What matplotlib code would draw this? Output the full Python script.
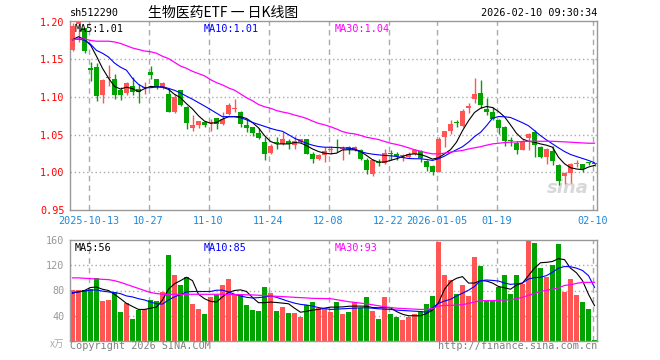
import matplotlib
matplotlib.use("Agg")
import matplotlib.pyplot as plt
import numpy as np

# daily candles, 88 trading days (oldest first)
opens = [1.1623, 1.1974, 1.1921, 1.1386, 1.1399, 1.1022, 1.1254, 1.1241, 1.1088, 1.1048,
         1.1149, 1.1100, 1.1120, 1.1333, 1.1241, 1.1123, 1.1044, 1.0807, 1.1088, 1.0868,
         1.0588, 1.0632, 1.0671, 1.0650, 1.0715, 1.0640, 1.0772, 1.0845, 1.0794, 1.0627,
         1.0605, 1.0518, 1.0399, 1.0255, 1.0395, 1.0370, 1.0421, 1.0364, 1.0399, 1.0439,
         1.0246, 1.0180, 1.0224, 1.0294, 1.0329, 1.0307, 1.0333, 1.0290, 1.0290, 1.0167,
         0.9982, 1.0132, 1.0127, 1.0254, 1.0237, 1.0210, 1.0206, 1.0249, 1.0285, 1.0149,
         1.0079, 1.0004, 1.0474, 1.0544, 1.0660, 1.0618, 1.0860, 1.0969, 1.1057, 1.0838,
         1.0794, 1.0693, 1.0605, 1.0416, 1.0386, 1.0298, 1.0456, 1.0531, 1.0342, 1.0202,
         1.0281, 1.0092, 0.9947, 0.9991, 1.0110, 1.0105, 1.0127, 1.0118]
closes = [1.1947, 1.1991, 1.1614, 1.1355, 1.1009, 1.1219, 1.1263, 1.1022, 1.1026, 1.1189,
          1.1070, 1.1070, 1.1132, 1.1289, 1.1132, 1.1189, 1.0807, 1.1000, 1.0895, 1.0649,
          1.0632, 1.0684, 1.0627, 1.0671, 1.0640, 1.0706, 1.0895, 1.0851, 1.0640, 1.0588,
          1.0518, 1.0456, 1.0246, 1.0355, 1.0386, 1.0448, 1.0377, 1.0421, 1.0439, 1.0246,
          1.0180, 1.0224, 1.0281, 1.0303, 1.0320, 1.0316, 1.0311, 1.0333, 1.0180, 1.0026,
          1.0158, 1.0127, 1.0254, 1.0245, 1.0210, 1.0219, 1.0249, 1.0294, 1.0184, 1.0070,
          1.0004, 1.0443, 1.0544, 1.0640, 1.0649, 1.0816, 1.0873, 1.1044, 1.0895, 1.0794,
          1.0711, 1.0588, 1.0421, 1.0412, 1.0298, 1.0412, 1.0509, 1.0368, 1.0202, 1.0311,
          1.0149, 0.9886, 0.9996, 1.0114, 1.0114, 1.0048, 1.0123, 1.0105]
highs = [1.1978, 1.2000, 1.1921, 1.1460, 1.1452, 1.1232, 1.1420, 1.1307, 1.1132, 1.1202,
         1.1263, 1.1167, 1.1202, 1.1408, 1.1241, 1.1202, 1.1114, 1.1035, 1.1088, 1.0882,
         1.0759, 1.0684, 1.0684, 1.0706, 1.0715, 1.0794, 1.0925, 1.0974, 1.0816, 1.0706,
         1.0605, 1.0588, 1.0465, 1.0377, 1.0464, 1.0530, 1.0443, 1.0487, 1.0443, 1.0439,
         1.0268, 1.0237, 1.0333, 1.0355, 1.0443, 1.0355, 1.0355, 1.0355, 1.0303, 1.0193,
         1.0180, 1.0180, 1.0311, 1.0298, 1.0276, 1.0246, 1.0272, 1.0316, 1.0294, 1.0158,
         1.0092, 1.0465, 1.0544, 1.0693, 1.0693, 1.0838, 1.0925, 1.1254, 1.1219, 1.0983,
         1.0873, 1.0706, 1.0618, 1.0465, 1.0412, 1.0443, 1.0518, 1.0561, 1.0355, 1.0325,
         1.0355, 1.0114, 1.0004, 1.0123, 1.0158, 1.0114, 1.0136, 1.0130]
lows = [1.1605, 1.1728, 1.1583, 1.1210, 1.0947, 1.0925, 1.1145, 1.0969, 1.0965, 1.1026,
        1.1026, 1.0921, 1.1035, 1.1232, 1.1100, 1.1100, 1.0794, 1.0781, 1.0886, 1.0575,
        1.0553, 1.0588, 1.0596, 1.0553, 1.0575, 1.0632, 1.0763, 1.0794, 1.0596, 1.0531,
        1.0487, 1.0439, 1.0158, 1.0237, 1.0306, 1.0360, 1.0311, 1.0303, 1.0386, 1.0237,
        1.0123, 1.0167, 1.0136, 1.0246, 1.0268, 1.0158, 1.0246, 1.0281, 1.0167, 0.9982,
        0.9956, 1.0083, 1.0114, 1.0167, 1.0167, 1.0145, 1.0184, 1.0228, 1.0140, 1.0018,
        0.9961, 1.0004, 1.0333, 1.0509, 1.0605, 1.0596, 1.0781, 1.0925, 1.0860, 1.0763,
        1.0698, 1.0509, 1.0355, 1.0355, 1.0246, 1.0290, 1.0290, 1.0202, 1.0193, 1.0114,
        1.0092, 0.9829, 0.9842, 0.9864, 1.0070, 1.0004, 1.0092, 1.0080]

ma5 = [1.176, 1.180, 1.176, 1.169, 1.154, 1.138, 1.125, 1.114, 1.1105, 1.113,
       1.111, 1.107, 1.111, 1.114, 1.1135, 1.113, 1.110, 1.1035, 1.099, 1.091,
       1.084, 1.075, 1.068, 1.065, 1.066, 1.0706, 1.0737, 1.074, 1.0737, 1.0715,
       1.066, 1.059, 1.0487, 1.041, 1.0377, 1.0377, 1.0377, 1.0395, 1.039, 1.0355,
       1.031, 1.0276, 1.0254, 1.0245, 1.0254, 1.0298, 1.030, 1.0298, 1.0276, 1.0224,
       1.0167, 1.0136, 1.0136, 1.0158, 1.018, 1.021, 1.0237, 1.0245, 1.0237, 1.021,
       1.0175, 1.0193, 1.0245, 1.030, 1.040, 1.0553, 1.0684, 1.0794, 1.085, 1.0873,
       1.086, 1.0807, 1.0737, 1.063, 1.0518, 1.0443, 1.0412, 1.040, 1.0377, 1.036,
       1.0333, 1.020, 1.0114, 1.0061, 1.0044, 1.0035, 1.007, 1.0092]
ma10 = [1.176, 1.1768, 1.1754, 1.170, 1.1618, 1.158, 1.153, 1.145, 1.1395, 1.1355,
        1.1246, 1.1167, 1.1123, 1.1123, 1.1132, 1.1136, 1.1114, 1.1088, 1.1053, 1.101,
        1.097, 1.0925, 1.088, 1.0833, 1.0785, 1.0737, 1.074, 1.0737, 1.0724, 1.0697,
        1.0662, 1.0636, 1.061, 1.0583, 1.0561, 1.0544, 1.050, 1.0452, 1.0417, 1.0386,
        1.036, 1.0342, 1.0333, 1.0333, 1.0329, 1.0325, 1.032, 1.0311, 1.0276, 1.0254,
        1.0241, 1.0232, 1.0224, 1.022, 1.021, 1.0197, 1.0184, 1.018, 1.018, 1.017,
        1.0158, 1.018, 1.0215, 1.026, 1.030, 1.034, 1.040, 1.0474, 1.053, 1.0618,
        1.0719, 1.074, 1.0737, 1.0728, 1.0693, 1.0658, 1.0618, 1.0553, 1.0487, 1.043,
        1.0377, 1.0325, 1.0276, 1.0237, 1.021, 1.0184, 1.0158, 1.0127]
ma30 = [1.176, 1.177, 1.177, 1.175, 1.174, 1.174, 1.174, 1.173, 1.171, 1.168,
        1.165, 1.163, 1.161, 1.160, 1.158, 1.154, 1.151, 1.146, 1.141, 1.138,
        1.134, 1.131, 1.128, 1.123, 1.119, 1.116, 1.112, 1.109, 1.104, 1.099,
        1.095, 1.090, 1.087, 1.085, 1.082, 1.080, 1.0785, 1.076, 1.074, 1.0715,
        1.068, 1.065, 1.063, 1.0605, 1.0575, 1.054, 1.052, 1.051, 1.049, 1.0465,
        1.045, 1.0435, 1.041, 1.0386, 1.037, 1.035, 1.0325, 1.030, 1.028, 1.026,
        1.0245, 1.0245, 1.0254, 1.0268, 1.028, 1.029, 1.031, 1.0325, 1.034, 1.036,
        1.0377, 1.0386, 1.0395, 1.040, 1.0404, 1.0408, 1.0412, 1.0412, 1.0412, 1.0412,
        1.0412, 1.0408, 1.0404, 1.040, 1.0395, 1.039, 1.0386, 1.0386]

# volume, in 10k shares
volume = [81, 81, 81, 83, 100, 63, 65, 77, 46, 60,
          35, 49, 50, 65, 63, 78, 137, 104, 89, 101,
          58.5, 51, 42.4, 70, 72.5, 89, 99, 74, 74, 57,
          49, 47, 86, 76, 47, 54, 44, 44, 38, 57,
          62, 53, 50.5, 46, 62, 43, 46, 62, 53, 70,
          47, 35, 69, 43, 38, 33, 38, 42, 47, 59,
          71.5, 157, 104, 96, 75, 89, 71.5, 133, 119, 63,
          63, 86, 104, 74, 105, 90, 159, 156, 115, 102,
          121, 154, 77, 99, 73, 62, 51, 1]
vma5 = [75.7, 77.8, 80, 84.8, 85.4, 82, 80, 74, 67, 59.6,
        54.7, 50, 50, 52, 53.7, 65, 82, 90.7, 95.6, 101,
        95.6, 74, 67, 62.8, 61.7, 70, 76.8, 80, 81, 78.4,
        69, 60.7, 60.7, 61.7, 61, 60, 59, 52, 45.6, 47,
        49, 50, 52, 53.7, 53.7, 54, 55, 55.3, 55.3, 55,
        53, 52.6, 53, 52.6, 46.7, 42.4, 40, 40, 40, 43.5,
        49, 60.7, 82, 94, 99.3, 102, 91.8, 91.8, 95.6, 95,
        91.8, 86.4, 84.3, 82, 88.6, 91.8, 103.6, 115.4, 124, 124.6,
        126, 130.5, 128.9, 115.4, 108, 95.6, 74, 56]
vma10 = [76.8, 77.8, 79, 80.5, 81, 79, 77.8, 76.8, 75, 71.4,
         69.8, 67, 65, 61.7, 59, 58.5, 65, 70, 73.5, 77.8,
         78.4, 78.4, 78.4, 78.4, 80.5, 80.5, 77.8, 74, 71.4, 69.2,
         68.2, 68.7, 69.8, 71.4, 69.2, 66, 62.8, 60, 58, 57,
         55.3, 53, 51.5, 50, 50.5, 51, 51.5, 52, 52.6, 52.6,
         52, 51, 50.5, 50, 49, 48.3, 47.8, 47.2, 46.7, 45.6,
         52.6, 59.6, 63.3, 66, 71.4, 75.7, 80.5, 86.4, 95.6, 96.6,
         96, 95, 91.8, 89.7, 90.7, 91.8, 98.2, 100.4, 101, 103.6,
         109, 115.4, 118, 117.6, 115.4, 111.7, 103.6, 85]
vma30 = [100, 100, 99.3, 98.8, 98.2, 97.7, 97.2, 95.6, 92.9, 89.7,
         86.4, 83.2, 80, 76.8, 75.2, 74, 74, 74, 74, 74,
         74, 74, 74, 74, 74, 74, 73.8, 73.6, 73.5, 73.2,
         73, 72.5, 72, 71.4, 70.8, 70.3, 69.8, 69.2, 68.7, 68.2,
         67.6, 67.4, 67.2, 67, 65.5, 63.9, 62.3, 61.2, 60, 59,
         57.4, 55.8, 54.2, 53.1, 52, 51.5, 51, 50.5, 50, 50,
         51.5, 55.3, 56.4, 56.4, 56.9, 57.4, 59.6, 61.7, 63.9, 63.9,
         63.9, 64.4, 65, 65.5, 67, 69.2, 72.5, 75.2, 78.4, 80.5,
         82, 84.3, 88, 89.1, 91.3, 92.9, 92.9, 93]

tick_idx = [3, 13, 23, 33, 43, 53, 61, 71, 87]
tick_labels = ["2025-10-13", "10-27", "11-10", "11-24", "12-08",
               "12-22", "2026-01-05", "01-19", "02-10"]

RED = "#ff5555"
GREEN = "#00a300"
GRID = "#aaaaaa"
MONO = "DejaVu Sans Mono"

n = len(closes)
x = np.arange(n)
w = 5 / 6
colors = [RED if c >= o else GREEN for o, c in zip(opens, closes)]

fig = plt.figure(figsize=(6.6, 3.6), dpi=100)
W, H = 660, 360
ax = fig.add_axes([70 / W, 1 - 210 / H, 527 / W, 189.3 / H])
axv = fig.add_axes([70 / W, 1 - 341 / H, 527 / W, 101 / H])

for a in (ax, axv):
    a.set_xlim(0, 527 / 6)
    for s in a.spines.values():
        s.set_color("#999999")
        s.set_linewidth(1)
    for t in tick_idx:
        a.axvline(t + 0.1, color=GRID, lw=1, ls=(0, (4, 3)), zorder=0)
    a.tick_params(length=0)

# candles
bottoms = [min(o, c) for o, c in zip(opens, closes)]
heights = [max(abs(c - o), 0.0014) for o, c in zip(opens, closes)]
ax.vlines(x + w / 2, lows, highs, colors=colors, lw=1, zorder=2)
ax.bar(x, heights, bottom=bottoms, width=w, align="edge", color=colors, lw=0, zorder=3)
ax.plot(x + w / 2, ma5, color="black", lw=0.8, zorder=4)
ax.plot(x + w / 2, ma10, color="blue", lw=0.8, zorder=4)
ax.plot(x + w / 2, ma30, color="magenta", lw=0.9, zorder=4)
ax.set_ylim(0.95, 1.2012)
for v in (1.00, 1.05, 1.10, 1.15):
    ax.axhline(v, color=GRID, lw=1, ls=(0, (1, 2)), zorder=0)
ax.set_yticks([0.95, 1.00, 1.05, 1.10, 1.15, 1.20])
ax.set_yticklabels(["%.2f" % v for v in [0.95, 1.00, 1.05, 1.10, 1.15, 1.20]],
                   color="red", family=MONO, fontsize=7.3)
ax.tick_params(axis="y", pad=4)
ax.set_xticks([t + 0.1 for t in tick_idx])
ax.set_xticklabels(tick_labels, color="#1e88d8", family=MONO, fontsize=7.3)
ax.tick_params(axis="x", pad=4)
ax.text(5 / 527, 0.985, "MA5:1.01", transform=ax.transAxes, color="black",
        family=MONO, fontsize=7.3, va="top")
ax.text(134 / 527, 0.985, "MA10:1.01", transform=ax.transAxes, color="blue",
        family=MONO, fontsize=7.3, va="top")
ax.text(265 / 527, 0.985, "MA30:1.04", transform=ax.transAxes, color="magenta",
        family=MONO, fontsize=7.3, va="top")
ax.text(0.985, 0.07, "sina", transform=ax.transAxes, color="#d8d8d8",
        fontsize=13, fontweight="bold", style="italic", ha="right", va="bottom", zorder=1)

# volume
axv.bar(x, volume, width=w, align="edge", color=colors, lw=0, zorder=2)
axv.plot(x + w / 2, vma5, color="black", lw=0.8, zorder=3)
axv.plot(x + w / 2, vma10, color="blue", lw=0.8, zorder=3)
axv.plot(x + w / 2, vma30, color="magenta", lw=0.9, zorder=3)
axv.set_ylim(0, 160)
for v in (40, 80, 120):
    axv.axhline(v, color=GRID, lw=1, ls=(0, (1, 2)), zorder=0)
axv.set_yticks([40, 80, 120, 160])
axv.set_yticklabels(["40", "80", "120", "160"], color="#999999", family=MONO, fontsize=7.3)
axv.tick_params(axis="y", pad=4)
axv.set_xticks([])
axv.text(5 / 527, 0.975, "MA5:56", transform=axv.transAxes, color="black",
         family=MONO, fontsize=7.3, va="top")
axv.text(134 / 527, 0.975, "MA10:85", transform=axv.transAxes, color="blue",
         family=MONO, fontsize=7.3, va="top")
axv.text(265 / 527, 0.975, "MA30:93", transform=axv.transAxes, color="magenta",
         family=MONO, fontsize=7.3, va="top")

# header / footer
fig.text(70 / W, 1 - 13 / H, "sh512290", family=MONO, fontsize=7.3, va="center")
fig.text(223 / W, 1 - 13 / H, "生物医药ETF 一 日K线图", family=["Noto Sans CJK SC", "DejaVu Sans"],
         fontsize=10, ha="center", va="center")
fig.text(597 / W, 1 - 13 / H, "2026-02-10 09:30:34", family=MONO, fontsize=7.3,
         ha="right", va="center")
fig.text(64 / W, 1 - 344 / H, "x万", family=["Noto Sans CJK SC", "DejaVu Sans"],
         color="#aaaaaa", fontsize=7, ha="right", va="center", style="italic")
fig.text(70 / W, 1 - 346 / H, "Copyright 2026 SINA.COM", family=MONO, color="#808080",
         fontsize=7.3, va="center")
fig.text(597 / W, 1 - 346 / H, "http://finance.sina.com.cn", family=MONO, color="#808080",
         fontsize=7.3, ha="right", va="center")

fig.savefig("out.png", dpi=100, facecolor="white")
